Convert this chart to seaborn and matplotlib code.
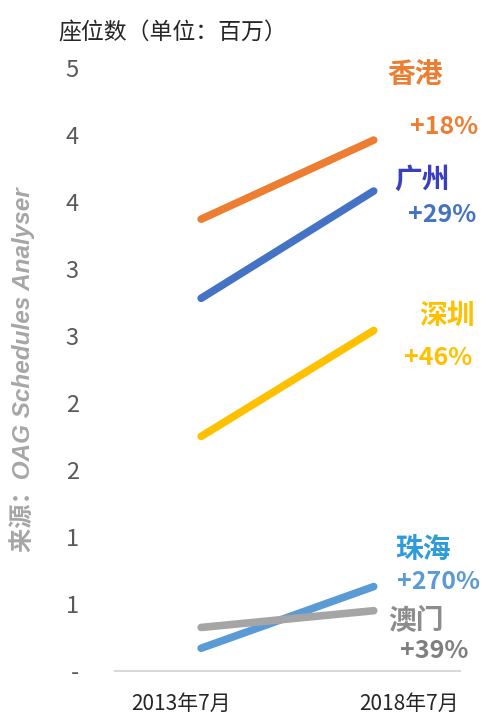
import matplotlib
matplotlib.use("Agg")
import matplotlib.pyplot as plt
import matplotlib.transforms as mtransforms
import seaborn as sns
import pandas as pd

periods = ["2013年7月", "2018年7月"]
cities = ["香港", "广州", "深圳", "珠海", "澳门"]
seats_2013 = [3.37, 2.78, 1.75, 0.17, 0.325]
seats_2018 = [3.96, 3.58, 2.54, 0.63, 0.45]
growth = ["+18%", "+29%", "+46%", "+270%", "+39%"]
colors = ["#ED7D31", "#4472C4", "#FFC000", "#5B9BD5", "#A5A5A5"]
ytick_vals = [0, 0.5, 1.0, 1.5, 2.0, 2.5, 3.0, 3.5, 4.0, 4.5]
ytick_labels = ["-", "1", "1", "2", "2", "3", "3", "4", "4", "5"]

rows = []
for c, a, b in zip(cities, seats_2013, seats_2018):
    rows.append({"city": c, "period": periods[0], "x": 0, "seats": a})
    rows.append({"city": c, "period": periods[1], "x": 1, "seats": b})
df = pd.DataFrame(rows)

sns.set_theme(style="white")
plt.rcParams["font.family"] = ["Noto Sans CJK SC", "DejaVu Sans"]

fig = plt.figure(figsize=(4.93, 7.2), dpi=100)
ax = fig.add_axes([0.233, 0.068, 0.70, 0.838])

sns.lineplot(data=df, x="x", y="seats", hue="city", hue_order=cities,
             palette=colors, linewidth=5.5, legend=False, ax=ax,
             solid_capstyle="round")

ax.set_xlim(-0.5, 1.5)
ax.set_ylim(0, 4.5)
ax.set_xticks([0, 1])
ax.set_xticklabels(periods, fontsize=15, color="#262626")
ax.set_yticks(ytick_vals)
ax.set_yticklabels(ytick_labels, fontsize=17, color="#595959")
ax.tick_params(axis="both", length=0)
ax.tick_params(axis="y", pad=26)
ax.tick_params(axis="x", pad=16)
ax.set_xlabel("")
ax.set_ylabel("")
for s in ["top", "right", "left"]:
    ax.spines[s].set_visible(False)
ax.spines["bottom"].set_color("#D9D9D9")
ax.spines["bottom"].set_linewidth(1.5)

# shift category labels like the reference
shifts = [-20, 35]
for lab, dx in zip(ax.get_xticklabels(), shifts):
    off = mtransforms.ScaledTranslation(dx / 100, 0, fig.dpi_scale_trans)
    lab.set_transform(lab.get_transform() + off)

# city labels (figure pixel coordinates of reference)
name_pos = [(415, 75), (422, 180), (447, 316), (423, 550), (416, 621)]
pct_pos = [(444, 127), (442, 215), (438, 358), (438, 582), (434, 651)]
pct_colors = ["#ED7D31", "#4472C4", "#FFC000", "#5B9BD5", "#7F7F7F"]
name_colors = ["#ED7D31", "#3A3FC0", "#FFC000", "#2E9BDA", "#8C8C8C"]
for c, g, (nx, ny), (px, py), nc, pc in zip(cities, growth, name_pos, pct_pos, name_colors, pct_colors):
    fig.text(nx / 493, 1 - ny / 720, c, color=nc, fontsize=20, fontweight="bold",
             ha="center", va="center")
    fig.text(px / 493, 1 - py / 720, g, color=pc, fontsize=18, fontweight="bold",
             ha="center", va="center")

fig.text(58 / 493, 1 - 33 / 720, "座位数（单位：百万）", fontsize=16.5, color="#262626",
         ha="left", va="center")
fig.text(22 / 493, 1 - 370 / 720, "来源：OAG Schedules Analyser", rotation=90,
         fontsize=17.5, color="#A6A6A6", style="italic", fontweight="bold",
         family=["Liberation Sans", "Noto Sans CJK SC"], ha="center", va="center")

fig.savefig("out.png", dpi=100)
